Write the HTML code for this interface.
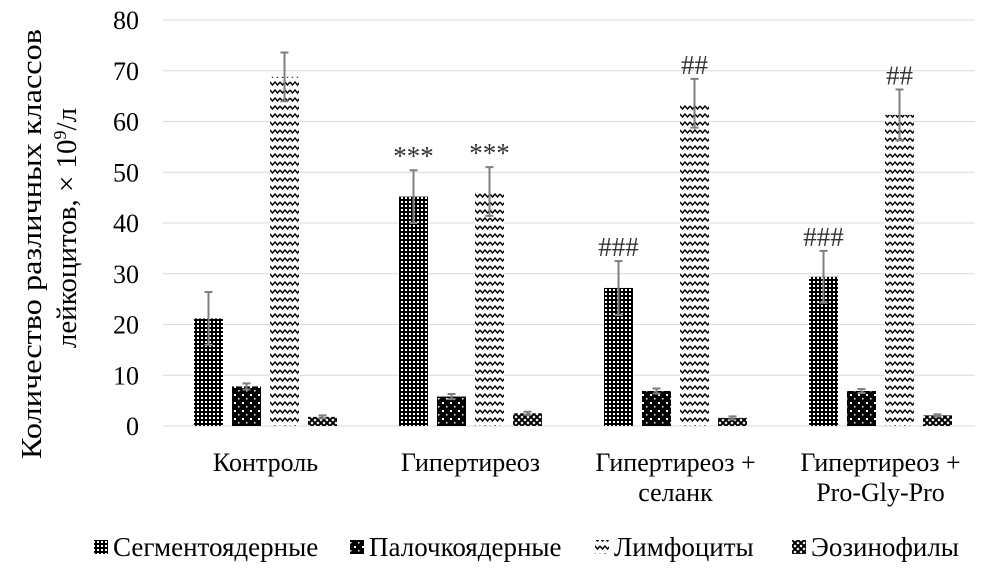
<!DOCTYPE html>
<html><head><meta charset="utf-8"><style>
body{margin:0;background:#fff}
svg{display:block;font-family:"Liberation Serif",serif}
</style></head><body>
<svg id="chart" width="981" height="582" viewBox="0 0 981 582">
<defs>
<pattern id="pSeg" width="4" height="4" patternUnits="userSpaceOnUse"><rect width="4" height="4" fill="#000"/><rect x="1" y="1" width="2" height="2" fill="#fff"/></pattern>
<pattern id="pPal" width="8" height="8" patternUnits="userSpaceOnUse"><rect width="8" height="8" fill="#000"/><rect x="2" y="2" width="2" height="2" fill="#fff"/><rect x="6" y="6" width="1.5" height="1.5" fill="#fff"/></pattern>
<pattern id="pLym" width="10" height="8" patternUnits="userSpaceOnUse"><rect width="10" height="8" fill="#fff"/><path d="M0,2 L2.5,5 L5,2 L7.5,5 L10,2" fill="none" stroke="#000" stroke-width="1.4"/></pattern>
<pattern id="pEos" width="6" height="6" patternUnits="userSpaceOnUse"><rect width="6" height="6" fill="#fff"/><path d="M0,0 L3,3 L0,6 M6,0 L3,3 L6,6" stroke="#000" stroke-width="2" fill="none"/></pattern>
</defs>
<g id="grid"></g>
<g id="yticks"></g>
<g id="bars"></g>
<g id="xlabels"></g>
<text transform="translate(41,244) rotate(-90)" text-anchor="middle" font-size="29" textLength="430" lengthAdjust="spacingAndGlyphs">Количество различных классов</text>
<text transform="translate(76,228) rotate(-90)" text-anchor="middle" font-size="29">лейкоцитов, × 10<tspan baseline-shift="super" font-size="18">9</tspan>/л</text>
<g id="legend" font-size="27"></g>
</svg>
<script>
const categories=[["Контроль"],["Гипертиреоз"],["Гипертиреоз +","селанк"],["Гипертиреоз +","Pro-Gly-Pro"]];
const seriesNames=["Сегментоядерные","Палочкоядерные","Лимфоциты","Эозинофилы"];
const segVals=[21.2,45.2,27.2,29.4];
const palVals=[7.8,5.8,6.9,6.9];
const lymVals=[68.8,46.2,63.6,61.3];
const eosVals=[1.8,2.5,1.6,2.1];
const segErr=[5.2,5.2,5.3,5.1];
const palErr=[0.6,0.5,0.5,0.4];
const lymErr=[4.8,4.8,4.8,5.0];
const eosErr=[0.3,0.3,0.3,0.2];
const segMarks=["","***","###","###"];
const palMarks=["","","",""];
const lymMarks=["","***","##","##"];
const eosMarks=["","","",""];
const yTicks=[0,10,20,30,40,50,60,70,80];
const NS="http://www.w3.org/2000/svg";
const L=163,R=983,T=20,B=426,ymax=80;
const y=v=>B-(B-T)*v/ymax;
const bw=(R-L)/categories.length;
const x=i=>L+bw*i+bw/2;
function mk(t,a,p){const e=document.createElementNS(NS,t);for(const k in a)e.setAttribute(k,a[k]);p.appendChild(e);return e;}
const grid=document.getElementById('grid'),yt=document.getElementById('yticks');
yTicks.forEach(v=>{
 const l=mk('line',{x1:L,x2:975,y1:y(v),y2:y(v),stroke:'#d9d9d9','stroke-width':1},grid);
 
 
 const t=mk('text',{x:139,y:y(v)+9,'text-anchor':'end','font-size':26},yt);t.textContent=v;
 
 
});
const series=[[segVals,segErr,segMarks,'url(#pSeg)'],[palVals,palErr,palMarks,'url(#pPal)'],[lymVals,lymErr,lymMarks,'url(#pLym)'],[eosVals,eosErr,eosMarks,'url(#pEos)']];
const bars=document.getElementById('bars');
const w=29,gap=9;
categories.forEach((c,i)=>{
 const start=x(i)-(4*w+3*gap)/2;
 series.forEach((s,j)=>{
  const v=s[0][i],e=s[1][i],bx=start+j*(w+gap);
  const r=mk('rect',{x:bx,y:y(v),width:w,height:B-y(v),fill:s[3]},bars);
  
  
  const cx=bx+w/2;
  const g=mk('path',{d:`M${cx},${y(v-e)}V${y(v+e)}M${cx-4},${y(v+e)}H${cx+4}M${cx-4},${y(v-e)}H${cx+4}`,stroke:'#7f7f7f','stroke-width':2,fill:'none'},bars);
  
  
  if(s[2][i]){
   const t=mk('text',{x:cx,y:y(v+e)-5,'text-anchor':'middle','font-size':27,fill:'#333'},bars);t.textContent=s[2][i];
   
   
  }
 });
 const xl=document.getElementById('xlabels');
 c.forEach((line,k)=>{
  const t=mk('text',{x:x(i),y:471+k*30,'text-anchor':'middle','font-size':26},xl);t.textContent=line;
  
  
 });
});
const lg=document.getElementById('legend');
const lx=[94,350,595,792],fills=['url(#pSeg)','url(#pPal)','url(#pLym)','url(#pEos)'];
seriesNames.forEach((n,j)=>{
 const r=mk('rect',{x:lx[j],y:540,width:14,height:14,fill:fills[j]},lg);
 
 
 const t=mk('text',{x:lx[j]+19,y:556},lg);t.textContent=n;
 
 
});
</script>
</body></html>
